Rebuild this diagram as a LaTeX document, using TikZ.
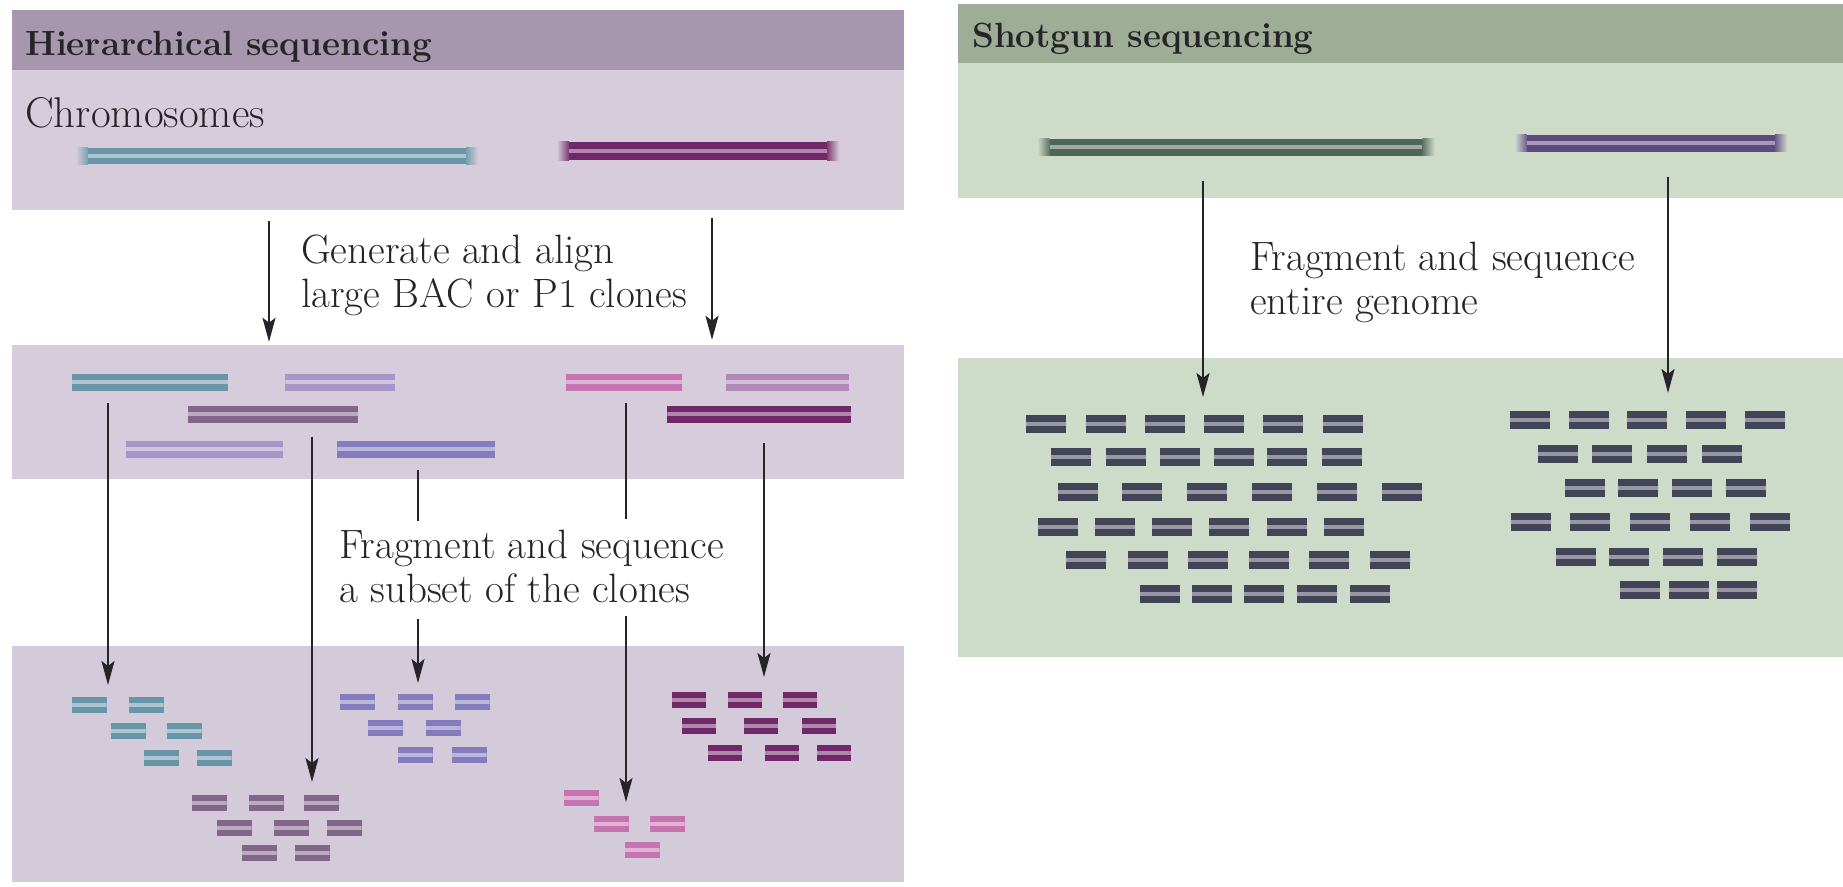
\documentclass[tikz,border=0pt]{standalone}
\usepackage{fontspec}
\usepackage{xcolor}
\usepackage{tikz}
\usetikzlibrary{arrows.meta, positioning}

\definecolor{ink}{RGB}{38,36,40}
\definecolor{lhead}{RGB}{166,150,174}
\definecolor{lband}{RGB}{215,204,220}
\definecolor{lband2}{RGB}{211,203,217}
\definecolor{rhead}{RGB}{158,174,150}
\definecolor{rband}{RGB}{207,219,201}
\definecolor{cblue}{RGB}{104,150,168}
\definecolor{clilac}{RGB}{168,150,200}
\definecolor{cbluelilac}{RGB}{132,124,188}
\definecolor{cmauve}{RGB}{130,102,138}
\definecolor{cpink}{RGB}{198,116,176}
\definecolor{clightpurple}{RGB}{178,136,184}
\definecolor{cdarkpurple}{RGB}{112,40,104}
\definecolor{rgreen}{RGB}{78,102,86}
\definecolor{rpurple}{RGB}{94,74,126}
\definecolor{rfrag}{RGB}{66,68,88}

\tikzstyle{band} = [rectangle, inner sep=0pt, draw=none]
\tikzstyle{head} = [inner sep=0pt, text=ink, font=\fontsize{35}{42}\selectfont\bfseries]
\tikzstyle{lbl} = [inner sep=0pt, text=ink, align=left, font=\fontsize{41}{44}\selectfont]
\tikzstyle{arrow} = [draw=ink, line width=2.2pt, ->, >={Stealth[length=24pt, width=13pt, inset=5pt]}]
\tikzstyle{link} = [draw=ink, line width=2.2pt]
\tikzset{
  dna/.style={rectangle, inner sep=0pt, fill=#1,
    path picture={\fill[white, opacity=.45] ([yshift=-2.2pt]path picture bounding box.west) rectangle ([yshift=2.2pt]path picture bounding box.east);}},
  clone/.style={dna=#1, minimum height=17pt},
  frag/.style={dna=#1, minimum width=35pt, minimum height=16pt},
  sfrag/.style={dna=#1, minimum width=40pt, minimum height=18pt}
}
% blurred ends of a chromosome
\newcommand{\softends}[3]{%
  \shade[left color=#2, right color=#3!90!white] ([xshift=-9pt]#1.south west) rectangle ([xshift=3pt]#1.north west);
  \shade[left color=#3!90!white, right color=#2] ([xshift=-3pt]#1.south east) rectangle ([xshift=9pt]#1.north east);}

\begin{document}
\begin{tikzpicture}[x=1pt, y=-1pt, node distance=0pt]
    \fill[white] (0,0) rectangle (1843,886);
    \useasboundingbox (0,0) rectangle (1843,886);

    % Hierarchical sequencing
    \node (lhd) [band, fill=lhead, minimum width=892, minimum height=60] at (458,40) {};
    \node (lchr) [band, fill=lband, minimum width=892, minimum height=140, below=of lhd] {};
    \node (lcln) [band, fill=lband, minimum width=892, minimum height=134] at (458,412) {};
    \node (lfrg) [band, fill=lband2, minimum width=892, minimum height=236] at (458,764) {};

    % Shotgun sequencing
    \node (rhd) [band, fill=rhead, minimum width=885, minimum height=59] at (1400.5,33.5) {};
    \node (rchr) [band, fill=rband, minimum width=885, minimum height=135, below=of rhd] {};
    \node (rfrg) [band, fill=rband, minimum width=885, minimum height=299] at (1400.5,507.5) {};

    \node (lttl) [head, anchor=base west] at (25,55) {Hierarchical sequencing};
    \node (lchrl) [lbl, anchor=base west, font=\fontsize{43}{44}\selectfont] at (25,127) {Chromosomes};
    \node (rttl) [head, anchor=base west] at (972,47) {Shotgun sequencing};
    \node (step1) [lbl, anchor=base west] at (301,307) {Generate and align\\large BAC or P1 clones};
    \node (step2) [lbl, anchor=base west] at (339,602) {Fragment and sequence\\a subset of the clones};
    \node (step3) [lbl, anchor=base west] at (1250,314) {Fragment and sequence\\entire genome};

    % chromosomes
    \node (bchr) [dna=cblue, minimum width=384, minimum height=16] at (277,156) {};
    \node (pchr) [dna=cdarkpurple, minimum width=264, minimum height=18] at (698,151) {};
    \node (gchr) [dna=rgreen, minimum width=379, minimum height=17] at (1236,147) {};
    \node (vchr) [dna=rpurple, minimum width=254, minimum height=17] at (1651,143) {};
    \softends{bchr}{lband}{cblue}
    \softends{pchr}{lband}{cdarkpurple}
    \softends{gchr}{rband}{rgreen}
    \softends{vchr}{rband}{rpurple}

    % clones
    \node (cb) [clone=cblue, minimum width=156] at (150,382) {};
    \node (cl1) [clone=clilac, minimum width=110, right=57pt of cb] {};
    \node (cp) [clone=cpink, minimum width=116, right=170pt of cl1] {};
    \node (clp) [clone=clightpurple, minimum width=123, right=44pt of cp] {};
    \node (cm) [clone=cmauve, minimum width=170] at (273,414) {};
    \node (cdp) [clone=cdarkpurple, minimum width=184, right=309pt of cm] {};
    \node (cl2) [clone=clilac, minimum width=157] at (204.5,449) {};
    \node (cbl) [clone=cbluelilac, minimum width=158, right=54pt of cl2] {};

    % fragments of the clones
    \foreach \y/\xs [count=\r] in {705/{89,146}, 731/{128,184}, 758/{161,214}}
        \foreach \x [count=\i] in \xs
            \node (fb\r\i) [frag=cblue] at (\x,\y) {};
    \foreach \y/\xs [count=\r] in {702/{357,415,472}, 728/{385,443}, 755/{415,469}}
        \foreach \x [count=\i] in \xs
            \node (fl\r\i) [frag=cbluelilac] at (\x,\y) {};
    \foreach \y/\xs [count=\r] in {803/{209,266,321}, 828/{234,291,344}, 853/{259,312}}
        \foreach \x [count=\i] in \xs
            \node (fm\r\i) [frag=cmauve] at (\x,\y) {};
    \foreach \y/\xs [count=\r] in {798/{581}, 824/{611,667}, 850/{642}}
        \foreach \x [count=\i] in \xs
            \node (fp\r\i) [frag=cpink] at (\x,\y) {};
    \foreach \y/\xs [count=\r] in {700/{689,745,800}, 726/{699,761,819}, 753/{725,782,834}}
        \foreach \x [count=\i] in \xs
            \node (fd\r\i) [frag=cdarkpurple, minimum width=34] at (\x,\y) {};

    % fragments of the whole genome
    \foreach \y/\xs [count=\r] in {424/{1046,1106,1165,1224,1283,1343}, 457/{1071,1126,1180,1234,1287,1342},
            492/{1078,1142,1207,1272,1337,1402}, 527/{1058,1115,1172,1229,1287,1344},
            560/{1086,1148,1208,1269,1329,1390}, 594/{1160,1212,1264,1317,1370}}
        \foreach \x [count=\i] in \xs
            \node (sg\r\i) [sfrag=rfrag] at (\x,\y) {};
    \foreach \y/\xs [count=\r] in {420/{1530,1589,1647,1706,1765}, 454/{1558,1612,1667,1722},
            488/{1585,1638,1692,1746}, 522/{1531,1590,1650,1710,1770},
            557/{1576,1629,1683,1737}, 590/{1640,1689,1737}}
        \foreach \x [count=\i] in \xs
            \node (sv\r\i) [sfrag=rfrag] at (\x,\y) {};

    % arrows
    \coordinate (ka) at (269,0);
    \coordinate (kb) at (712,0);
    \draw[arrow, shorten <=10pt, shorten >=3pt] (lchr.south -| ka) -- (lcln.north -| ka);
    \draw[arrow, shorten <=7pt, shorten >=5pt] (lchr.south -| kb) -- (lcln.north -| kb);

    \coordinate (tb) at (108,685);
    \coordinate (tm) at (312,782);
    \coordinate (tl) at (418,683);
    \coordinate (tp) at (626,802);
    \coordinate (td) at (764,677);
    \draw[arrow, shorten <=12pt] (cb.south -| tb) -- (tb);
    \draw[arrow, shorten <=14pt] (cm.south -| tm) -- (tm);
    \draw[link, shorten <=12pt, shorten >=8pt] (cbl.south -| tl) -- (step2.north -| tl);
    \draw[arrow, shorten <=16pt] (step2.south -| tl) -- (tl);
    \draw[link, shorten <=12pt, shorten >=10pt] (cp.south -| tp) -- (step2.north -| tp);
    \draw[arrow, shorten <=13pt] (step2.south -| tp) -- (tp);
    \draw[arrow, shorten <=20pt] (cdp.south -| td) -- (td);

    \coordinate (ts) at (1203,397);
    \coordinate (tt) at (1668,393);
    \draw[arrow, shorten <=25pt] (gchr.south -| ts) -- (ts);
    \draw[arrow, shorten <=25pt] (vchr.south -| tt) -- (tt);
\end{tikzpicture}
\end{document}
